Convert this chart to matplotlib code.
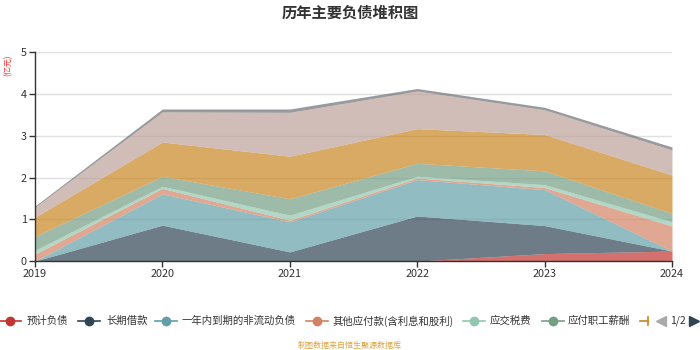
import numpy as np
import matplotlib.pyplot as plt
from matplotlib.lines import Line2D

plt.rcParams['font.family'] = ['Noto Sans CJK SC', 'DejaVu Sans']

years = [2019, 2020, 2021, 2022, 2023, 2024]
# stacked layers, bottom to top (unit: 亿元)
names = ['预计负债', '长期借款', '一年内到期的非流动负债', '其他应付款(含利息和股利)',
         '应交税费', '应付职工薪酬', '应付账款', '合同负债', '其他']
yujifuzhai = [0, 0, 0, 0, 0.18, 0.24]
changqi = [0, 0.86, 0.22, 1.08, 0.67, 0.0]
yinian = [0, 0.75, 0.72, 0.87, 0.86, 0.0]
qitayingfu = [0.17, 0.13, 0.04, 0.04, 0.05, 0.60]
yingjiao = [0.09, 0.05, 0.12, 0.04, 0.07, 0.10]
zhigong = [0.33, 0.24, 0.39, 0.31, 0.33, 0.20]
yingfuzhangkuan = [0.46, 0.82, 1.02, 0.83, 0.87, 0.92]
hetong = [0.24, 0.72, 1.05, 0.90, 0.59, 0.60]
qita = [0.03, 0.07, 0.08, 0.06, 0.06, 0.07]
series = [yujifuzhai, changqi, yinian, qitayingfu, yingjiao, zhigong,
          yingfuzhangkuan, hetong, qita]
colors = ['#c23531', '#2f4554', '#61a0a8', '#d48265', '#91c7ae', '#749f83',
          '#ca8622', '#bda29a', '#6e7074']

fig = plt.figure(figsize=(7, 3.5), dpi=100)
ax = fig.add_axes([0.05, 0.254, 0.91, 0.597])

base = np.zeros(len(years))
for vals, c in zip(series, colors):
    top = base + np.array(vals)
    ax.fill_between(years, base, top, color=c, alpha=0.7, linewidth=0, zorder=2)
    base = top

ax.set_xlim(2019, 2024)
ax.set_ylim(0, 5)
ax.set_xticks(years)
ax.set_yticks([0, 1, 2, 3, 4, 5])
ax.yaxis.grid(True, color='#e0e0e0', lw=1, zorder=0)
ax.set_axisbelow(True)
for s in ['top', 'right']:
    ax.spines[s].set_visible(False)
for s in ['left', 'bottom']:
    ax.spines[s].set_color('#333333')
    ax.spines[s].set_linewidth(1)
ax.tick_params(axis='both', colors='#333333', labelsize=7.8, length=4, width=1, pad=2)

fig.text(0.5, 0.965, '历年主要负债堆积图', ha='center', va='center',
         fontsize=11, fontweight='bold', color='#333333')
fig.text(0.012, 0.815, '(亿元)', ha='center', va='center', rotation=90,
         fontsize=5.8, color='#ff3333')

# legend (page 1 of 2)
ly = (350 - 321) / 350
items = [(10, 27), (89, 106), (166, 182), (317, 333), (474, 490), (553, 568)]
for (mx, tx), nm, c in zip(items, names, colors):
    fig.add_artist(Line2D([(mx - 11) / 700, (mx + 11) / 700], [ly, ly], color=c, lw=1.2))
    fig.add_artist(Line2D([mx / 700], [ly], marker='o', markersize=6, color=c))
    fig.text(tx / 700, ly, nm, ha='left', va='center', fontsize=7.5, color='#333333')
fig.add_artist(Line2D([640 / 700, 648 / 700], [ly, ly], color='#ca8622', lw=1.2))
fig.add_artist(Line2D([648 / 700, 648 / 700], [ly - 0.012, ly + 0.012], color='#ca8622', lw=1.2))
fig.add_artist(Line2D([661 / 700], [ly], marker='<', markersize=6.5, color='#aaaaaa', lw=0))
fig.text(678 / 700, ly, '1/2', ha='center', va='center', fontsize=7.5, color='#333333')
fig.add_artist(Line2D([694 / 700], [ly], marker='>', markersize=6.5, color='#2f4554', lw=0))

fig.text(0.5, (350 - 345) / 350, '制图数据来自恒生聚源数据库', ha='center', va='center',
         fontsize=5.8, color='#d9a441')

fig.savefig('out.png', dpi=100)
